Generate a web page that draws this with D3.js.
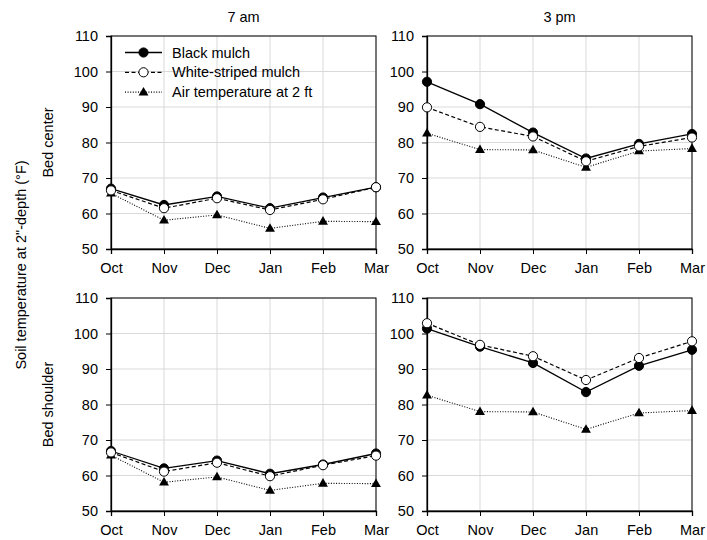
<!DOCTYPE html>
<html>
<head>
<meta charset="utf-8">
<script src="https://cdn.jsdelivr.net/npm/d3@7"></script>
<style>
    body { margin: 0; background: #fff; }
    svg text { font-family: "Liberation Sans", Arial, sans-serif; fill: #000; }
</style>
</head>
<body>
<svg id="chart" width="707" height="540"></svg>
<script>
//categories and ticks
var months = ["Oct", "Nov", "Dec", "Jan", "Feb", "Mar"];
var yTicks = [50, 60, 70, 80, 90, 100, 110];
var columnTitles = ["7 am", "3 pm"];
var rowTitles = ["Bed center", "Bed shoulder"];
var seriesNames = ["Black mulch", "White-striped mulch", "Air temperature at 2 ft"];

//bed center
var centerAmBlack = [67.0, 62.4, 64.8, 61.5, 64.5, 67.4];
var centerAmWhite = [66.5, 61.5, 64.3, 61.0, 64.0, 67.4];
var centerPmBlack = [97.1, 90.8, 82.8, 75.5, 79.6, 82.4];
var centerPmWhite = [89.9, 84.4, 81.7, 74.7, 78.9, 81.4];

//bed shoulder
var shoulderAmBlack = [66.9, 62.0, 64.2, 60.5, 63.1, 66.2];
var shoulderAmWhite = [66.5, 61.1, 63.6, 59.8, 62.9, 65.6];
var shoulderPmBlack = [101.4, 96.3, 91.7, 83.5, 90.9, 95.4];
var shoulderPmWhite = [102.9, 96.8, 93.6, 86.9, 93.1, 97.8];

//air temperature at 2 ft
var airAm = [65.7, 58.1, 59.6, 55.8, 57.8, 57.7];
var airPm = [82.6, 78.0, 77.9, 73.0, 77.6, 78.3];

var panels = [
    { row: 0, col: 0, series: [centerAmBlack, centerAmWhite, airAm], legend: true },
    { row: 0, col: 1, series: [centerPmBlack, centerPmWhite, airPm] },
    { row: 1, col: 0, series: [shoulderAmBlack, shoulderAmWhite, airAm] },
    { row: 1, col: 1, series: [shoulderPmBlack, shoulderPmWhite, airPm] }
];

var colLeft = [111, 427];
var rowTop = [36, 298];
var panelW = 265;
var panelH = 213;
var fontSize = "14.5px";

//line styles for each series
var styles = [
    { dash: null, width: 1.3, marker: "circle", fill: "#000" },
    { dash: "4,2.5", width: 1.2, marker: "circle", fill: "#fff" },
    { dash: "1,1.6", width: 1.1, marker: "triangle", fill: "#000" }
];

var svg = d3.select("#chart");

var x = d3.scalePoint().domain(months).range([0, panelW]);
var y = d3.scaleLinear().domain([50, 110]).range([panelH, 0]);

function drawMarker(g, style, cx, cy) {
    if (style.marker == "circle") {
        g.append("circle")
            .attr("cx", cx).attr("cy", cy).attr("r", 4.6)
            .attr("fill", style.fill)
            .attr("stroke", "#000").attr("stroke-width", 1);
    }
    else {
        g.append("path")
            .attr("d", d3.symbol().type(d3.symbolTriangle).size(42)())
            .attr("transform", "translate(" + cx + "," + (cy + 0.5) + ")")
            .attr("fill", "#000");
    }
}

panels.forEach(function (p) {
    var g = svg.append("g")
        .attr("transform", "translate(" + colLeft[p.col] + "," + rowTop[p.row] + ")");

    //gridlines
    g.selectAll(".hgrid").data(yTicks).enter().append("line")
        .attr("x1", 0).attr("x2", panelW)
        .attr("y1", function (d) { return y(d); }).attr("y2", function (d) { return y(d); })
        .attr("stroke", "#d9d9d9").attr("stroke-width", 1);
    g.selectAll(".vgrid").data(months).enter().append("line")
        .attr("y1", 0).attr("y2", panelH)
        .attr("x1", function (d) { return x(d); }).attr("x2", function (d) { return x(d); })
        .attr("stroke", "#d9d9d9").attr("stroke-width", 1);

    //frame
    g.append("rect")
        .attr("x", 0).attr("y", 0).attr("width", panelW).attr("height", panelH)
        .attr("fill", "none").attr("stroke", "#000").attr("stroke-width", 1);

    //axes
    var yAxis = g.append("g")
        .call(d3.axisLeft(y).tickValues(yTicks).tickSize(5).tickPadding(8));
    var xAxis = g.append("g")
        .attr("transform", "translate(0," + panelH + ")")
        .call(d3.axisBottom(x).tickSize(5).tickPadding(9));
    [xAxis, yAxis].forEach(function (a) {
        a.select(".domain").attr("stroke", "#000").attr("stroke-width", 1.3);
        a.selectAll("text").style("font-size", fontSize).attr("fill", "#000");
        a.selectAll(".tick line").attr("stroke", "#000");
    });

    //series lines and markers
    p.series.forEach(function (values, i) {
        var style = styles[i];
        var line = d3.line()
            .x(function (d, j) { return x(months[j]); })
            .y(function (d) { return y(d); });
        g.append("path")
            .datum(values)
            .attr("d", line)
            .attr("fill", "none")
            .attr("stroke", "#000")
            .attr("stroke-width", style.width)
            .attr("stroke-dasharray", style.dash);
    });
    //markers on top, air first so mulch points sit above
    [2, 0, 1].forEach(function (i) {
        p.series[i].forEach(function (v, j) {
            drawMarker(g, styles[i], x(months[j]), y(v));
        });
    });

    //legend
    if (p.legend) {
        seriesNames.forEach(function (name, i) {
            var ly = 16.5 + i * 19.8;
            var style = styles[i];
            g.append("line")
                .attr("x1", 14).attr("x2", 51).attr("y1", ly).attr("y2", ly)
                .attr("stroke", "#000").attr("stroke-width", style.width)
                .attr("stroke-dasharray", style.dash);
            drawMarker(g, style, 32.5, ly);
            g.append("text")
                .attr("x", 61).attr("y", ly + 5)
                .style("font-size", fontSize)
                .text(name);
        });
    }
});

//column titles
columnTitles.forEach(function (t, i) {
    svg.append("text")
        .attr("x", colLeft[i] + panelW / 2).attr("y", 22)
        .attr("text-anchor", "middle")
        .style("font-size", fontSize)
        .text(t);
});

//row titles
rowTitles.forEach(function (t, i) {
    svg.append("text")
        .attr("transform", "translate(53," + (rowTop[i] + panelH / 2) + ") rotate(-90)")
        .attr("text-anchor", "middle")
        .style("font-size", fontSize)
        .text(t);
});

//main y title
svg.append("text")
    .attr("transform", "translate(26,265) rotate(-90)")
    .attr("text-anchor", "middle")
    .style("font-size", fontSize)
    .text("Soil temperature at 2\"-depth (°F)");
</script>
</body>
</html>
